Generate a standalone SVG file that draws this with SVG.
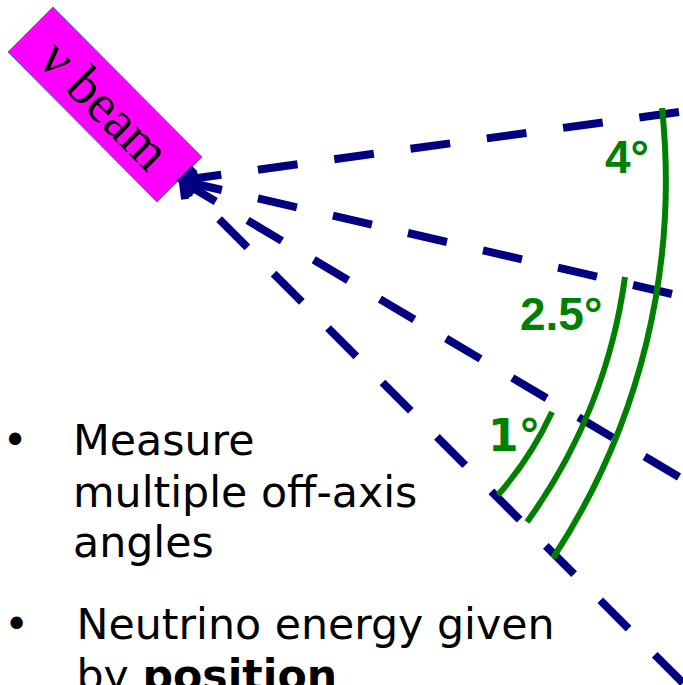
<svg xmlns="http://www.w3.org/2000/svg" width="683" height="685" viewBox="0 0 683 685">
<style>
.beam{stroke:#000080;stroke-width:8;fill:none;stroke-dasharray:40 37;marker-end:url(#arr)}
.arc{stroke:#008000;stroke-width:6;fill:none}
.ang{fill:#008000;font-family:"Liberation Sans",Arial,sans-serif;font-weight:bold;font-size:46px}
.txt{fill:#000;font-family:"DejaVu Sans",sans-serif;font-size:42.7px}
</style>
<defs>
<marker id="arr" markerUnits="userSpaceOnUse" markerWidth="60" markerHeight="60" viewBox="-30 -30 60 60" refX="0" refY="0" orient="auto" overflow="visible">
<path d="M -13 -10 L 0 0 L -13 10" fill="none" stroke="#000080" stroke-width="8"/>
</marker>
</defs>
<rect width="683" height="685" fill="#fff"/>
<g id="beam-box">
<polygon points="53,7 8,52 157,202 202,157" fill="#FF00FF" stroke="#4472C4" stroke-width="1"/>
<text transform="translate(105,105) rotate(45)" x="0" y="18" text-anchor="middle" font-family="'Liberation Serif','Times New Roman',serif" font-size="55">ν beam</text>
</g>
<g id="connectors">
<line class="beam" x1="679" y1="112" x2="183" y2="180"/>
<line class="beam" x1="672" y1="294" x2="183" y2="181"/>
<line class="beam" x1="679" y1="477" x2="183" y2="182"/>
<line class="beam" x1="683" y1="683" x2="183" y2="183"/>
</g>
<g id="arc-4">
<path class="arc" d="M 662 108 A 688 688 0 0 1 553 558"/>
<text class="ang" x="605" y="173">4°</text>
</g>
<g id="arc-2-5">
<path class="arc" d="M 625 277 A 544 544 0 0 1 527 522"/>
<text class="ang" x="520" y="330">2.5°</text>
</g>
<g id="arc-1">
<path class="arc" d="M 552 412 A 344 344 0 0 1 498 495"/>
<text class="ang" x="488" y="451" style="font-family:'DejaVu Sans',sans-serif;font-size:44px">1°</text>
</g>
<g id="bullets">
<text class="txt" x="2.5" y="455">•</text>
<text class="txt" x="73" y="455">Measure</text>
<text class="txt" x="73" y="506.5">multiple off-axis</text>
<text class="txt" x="73" y="557">angles</text>
<text class="txt" x="4" y="639">•</text>
<text class="txt" x="76.5" y="639">Neutrino energy given</text>
<text class="txt" x="76.5" y="690">by <tspan font-weight="bold">position</tspan></text>
</g>
</svg>
